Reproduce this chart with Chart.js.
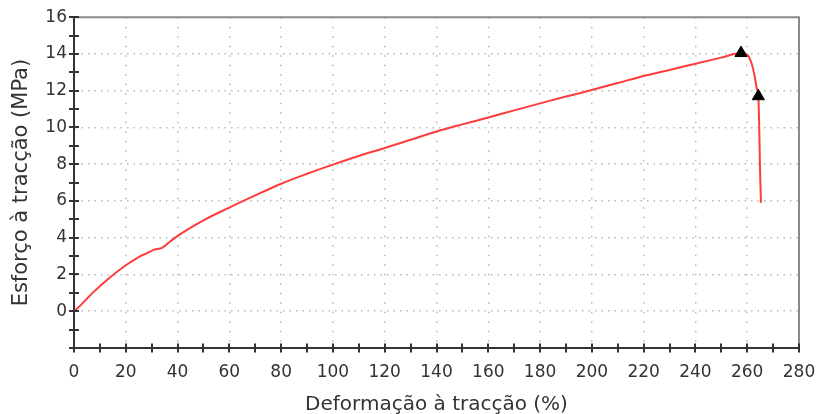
<!DOCTYPE html>
<html>
<head>
<meta charset="utf-8">
<script src="https://cdn.jsdelivr.net/npm/chart.js@4/dist/chart.umd.min.js"></script>
<style>
  html, body { margin: 0; padding: 0; background: #fff; }
  #wrap { width: 819px; height: 414px; }
</style>
</head>
<body>
<div id="wrap"><canvas id="c" width="819" height="414"></canvas></div>
<script>
// Tensile test curve: strain (%) vs. stress (MPa)
const strain = [0, 2, 7.5, 14, 20, 25, 28, 31, 34, 37, 40, 50, 60, 70, 80, 90, 100, 110, 120, 130, 140, 150, 160, 170, 180, 190, 200, 210, 220, 230, 240, 250, 257.6, 260.2, 261.7, 262.8, 263.7, 264.3, 264.5, 264.7, 264.9, 265.1, 265.3];
const stress = [0, 0.25, 1.04, 1.85, 2.5, 2.95, 3.15, 3.35, 3.45, 3.78, 4.1, 4.95, 5.64, 6.3, 6.94, 7.48, 7.98, 8.45, 8.88, 9.33, 9.78, 10.17, 10.54, 10.93, 11.31, 11.68, 12.04, 12.42, 12.8, 13.13, 13.47, 13.8, 14.05, 13.93, 13.48, 12.85, 12.12, 11.7, 10.8, 9.6, 8.0, 6.9, 5.9];

// Marked points: maximum stress and break
const markStrain = [257.6, 264.3];
const markStress = [14.05, 11.7];

const xTitle = 'Deformação à tracção (%)';
const yTitle = 'Esforço à tracção (MPa)';

const FONT = 'DejaVu Sans';
const TEXT = '#333333';
const AXIS = '#333333';
const GRID = '#b8b8b8';

// Short marks crossing the left and bottom axes, plus the grey frame on top/right
const axisMarks = {
  id: 'axisMarks',
  afterDraw(chart) {
    const { ctx, chartArea: a, scales: { x, y } } = chart;
    ctx.save();
    ctx.strokeStyle = '#8a8a8a';
    ctx.lineWidth = 2;
    ctx.beginPath();
    ctx.moveTo(a.left, a.top);
    ctx.lineTo(a.right, a.top);
    ctx.lineTo(a.right, a.bottom);
    ctx.stroke();

    ctx.strokeStyle = AXIS;
    ctx.lineWidth = 2;
    ctx.beginPath();
    x.ticks.forEach(t => {
      const px = Math.round(x.getPixelForValue(t.value));
      ctx.moveTo(px, a.bottom - 4.5);
      ctx.lineTo(px, a.bottom + 4.5);
    });
    y.ticks.forEach(t => {
      const py = Math.round(y.getPixelForValue(t.value));
      ctx.moveTo(a.left - 5, py);
      ctx.lineTo(a.left + 5, py);
    });
    ctx.stroke();
    ctx.restore();
  }
};

new Chart(document.getElementById('c'), {
  type: 'scatter',
  data: {
    datasets: [
      {
        data: markStrain.map((v, i) => ({ x: v, y: markStress[i] })),
        pointStyle: 'triangle',
        pointRadius: 7,
        backgroundColor: '#000',
        borderColor: '#000',
        borderWidth: 1,
        showLine: false,
        order: 0
      },
      {
        data: strain.map((v, i) => ({ x: v, y: stress[i] })),
        showLine: true,
        borderColor: 'rgb(255,60,60)',
        borderWidth: 2,
        pointRadius: 0,
        cubicInterpolationMode: 'monotone',
        order: 1
      }
    ]
  },
  options: {
    responsive: false,
    animation: false,
    events: [],
    layout: { padding: { top: 15, right: 20, left: 0, bottom: 0 } },
    plugins: { legend: { display: false }, tooltip: { enabled: false } },
    scales: {
      x: {
        type: 'linear',
        min: 0, max: 280,
        afterFit(s) { s.height = 66; s.paddingLeft = 0; s.paddingRight = 0; },
        ticks: {
          stepSize: 10,
          autoSkip: false,
          maxRotation: 0,
          padding: 14,
          color: TEXT,
          font: { family: FONT, size: 17 },
          callback: v => (v % 20 === 0 ? String(v) : '')
        },
        grid: {
          drawTicks: false,
          lineWidth: 1.5,
          color: c => {
            const v = c.tick && c.tick.value;
            return (v % 20 === 0 && v > 0 && v < 280) ? GRID : 'rgba(0,0,0,0)';
          }
        },
        border: { display: true, color: AXIS, width: 2, dash: [1.5, 8] },
        title: {
          display: true,
          text: xTitle,
          color: TEXT,
          font: { family: FONT, size: 20, lineHeight: 0.9 },
          padding: { top: 0, bottom: 0 }
        }
      },
      y: {
        type: 'linear',
        min: -2, max: 16,
        afterFit(s) { s.width = 74; },
        ticks: {
          stepSize: 1,
          autoSkip: false,
          padding: 7,
          color: TEXT,
          font: { family: FONT, size: 17 },
          callback: v => (v % 2 === 0 && v >= 0 ? String(v) : '')
        },
        grid: {
          drawTicks: false,
          lineWidth: 1.5,
          color: c => {
            const v = c.tick && c.tick.value;
            return (v % 2 === 0 && v > -2 && v < 16) ? GRID : 'rgba(0,0,0,0)';
          }
        },
        border: { display: true, color: AXIS, width: 2, dash: [1.5, 5] },
        title: {
          display: true,
          text: yTitle,
          color: TEXT,
          font: { family: FONT, size: 21, lineHeight: 1.0 },
          padding: { top: 11, bottom: 0 }
        }
      }
    }
  },
  plugins: [axisMarks]
});
</script>
</body>
</html>
